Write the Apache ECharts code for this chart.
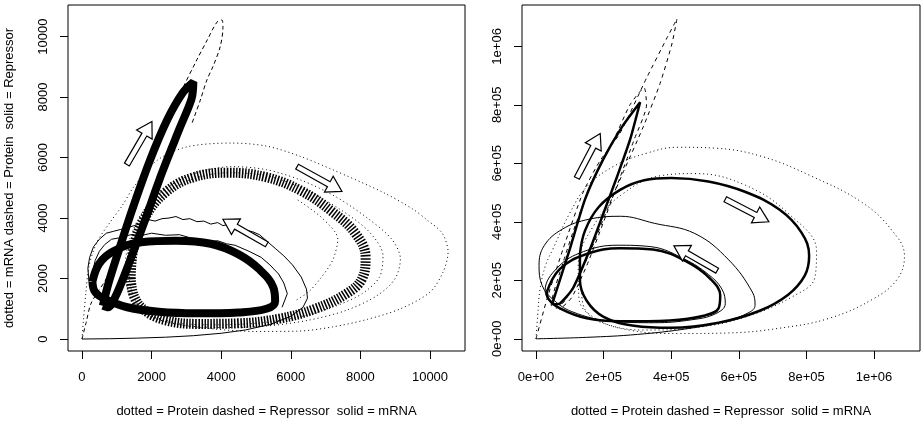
<!DOCTYPE html>
<html>
<head>
<meta charset="utf-8">
<script src="https://cdn.jsdelivr.net/npm/echarts/dist/echarts.min.js"></script>
<style>
  html, body { margin: 0; padding: 0; background: #fff; }
  #chart { width: 924px; height: 423px; }
</style>
</head>
<body>
<div id="chart"></div>
<script>
// ---- tick values / labels ----
const leftTicks = [0, 2000, 4000, 6000, 8000, 10000];
const rightTicks = [0, 200000, 400000, 600000, 800000, 1000000];
const rightTickLabels = ["0e+00", "2e+05", "4e+05", "6e+05", "8e+05", "1e+06"];

const xTitle = "dotted = Protein dashed = Repressor  solid = mRNA";
const yTitle = "dotted = mRNA dashed = Protein  solid = Repressor";

// ---- left panel (stochastic run) ----
// dashed limit cycle (Repressor, Protein) - dense band
const leftNarrow = [[600,1100],[750,1800],[1050,2900],[1450,4300],[1950,5900],[2450,7250],[2900,8150],[3200,8500],
  [3150,7950],[2800,6950],[2300,5500],[1800,3900],[1350,2500],[1000,1500],[750,1050],[600,1100]];
// dotted limit cycle (Protein, mRNA) - dense band
const leftBig = [[1400,2000],[1480,3000],[1800,4000],[2400,4850],[3200,5350],[4200,5500],[5300,5350],[6300,4900],
  [7200,4200],[7850,3500],[8150,2700],[8050,2000],[7600,1500],[6700,1000],[5700,680],[4500,520],[3300,500],
  [2400,620],[1800,950],[1500,1400],[1400,2000]];
// solid limit cycle (mRNA, Repressor) - dense band
const leftSmall = [[300,1900],[500,2500],[900,2900],[1700,3200],[2700,3250],[3700,3150],[4500,2800],[5100,2300],
  [5500,1700],[5550,1250],[5300,1000],[4500,880],[3300,850],[2200,900],[1300,1050],[700,1300],[380,1550],[300,1900]];
// dotted transient
const leftDotTrans = [[0,0],[40,600],[110,1500],[200,2400],[430,3200],[800,3850],[1150,4400],[1500,5050],[2150,5900],
  [3000,6350],[4300,6480],[5300,6380],[6250,6050],[7200,5600],[8650,4850],[9500,4300],[9900,3950],[10350,3500],
  [10520,2870],[10370,2200],[10000,1550],[9150,1000],[8200,650],[7200,400],[6200,260],[5000,250],[3800,330],
  [2800,480],[2000,720],[1550,1100],[1300,1700],[1250,2500],[1400,3400],[1800,4300],[2500,5050],[3300,5500],
  [4300,5700],[5300,5600],[6300,5250],[7300,4700],[8200,4000],[8900,3300],[9150,2650],[9000,2000],[8500,1450],
  [7600,950],[6500,620],[5300,430],[4100,380],[3000,440],[2200,650],[1700,1000],[1450,1500],[1350,2200],
  [1450,3100],[1800,4000],[2400,4800],[3200,5300],[4200,5500],[5300,5400],[6400,4950],[7400,4300],[8250,3550],
  [8650,2750],[8550,2050],[8050,1500],[7200,1050],[6200,720],[5000,520],[3800,470],[2800,520],[2100,720]];
const leftDotInner = [[6200,4600],[6900,4000],[7350,3300],[7200,2600],[6850,2000],[6500,1550],[6100,1250]];
// dashed transient
const leftDashTrans = [[0,0],[120,550],[250,1150],[450,1550],[700,2000],[1050,3000],[1550,4600],[2050,6000],
  [2500,7200],[2900,8300],[3300,9230],[3600,9890],[3880,10480],[4020,10550],[4050,10300],[3970,9660],
  [3760,9000],[3590,8570],[3400,7900],[3150,7100]];
// solid transients (noisy)
const leftSolidTrans = [[0,0],[800,10],[1600,30],[2400,60],[3200,110],[4000,190],[4700,300],[5400,480],[6000,750],
  [6350,1050],[6480,1350],[6450,1650],[6300,2050],[6050,2450],[5800,2750],[5550,3000],[5300,3250],[5100,3450],
  [4900,3550],[4700,3600],[4550,3700],[4400,3650],[4250,3800],[4050,3750],[3900,3850],[3700,3800],[3500,3900],
  [3300,3880],[3100,3980],[2900,3950],[2700,4050],[2500,4000],[2300,3980],[2100,3900],[1900,3950],[1700,3820],
  [1500,3750],[1300,3680],[1100,3620],[900,3560],[700,3500],[500,3300],[330,3050],[220,2700],[170,2350],
  [200,1900],[350,1550],[650,1300],[1100,1150]];
const leftSolid2 = [[5750,1050],[5900,1500],[5800,1850],[5650,2150],[5400,2450],[5150,2700],[4800,2900],
  [4400,3100],[4150,3150],[3900,3250],[3650,3230],[3400,3300],[3100,3350],[2800,3450],[2400,3430],[2000,3500],
  [1700,3420],[1400,3450],[1100,3350],[850,3300],[650,3120],[500,2900],[380,2600],[320,2300],[350,1700],[600,1350]];
const leftArrows = [[1290,5770,2010,7190],[6180,5700,7470,4880],[5310,3130,4050,3960]];

// ---- right panel (deterministic run) ----
const rightNarrow = [[50000,127000],[100000,307000],[145000,477000],[198000,612000],[254000,724000],[308000,809000],
  [278000,680000],[240000,555000],[204000,443000],[160000,307000],[109000,172000],[71000,121000],[50000,118000],
  [50000,127000]];
const rightBig = [[130000,290000],[145000,370000],[185000,450000],[250000,510000],[320000,542000],[400000,550000],
  [510000,538000],[620000,502000],[720000,442000],[785000,364000],[808000,284000],[795000,216000],[745000,150000],
  [660000,95000],[540000,55000],[400000,38000],[290000,45000],[200000,75000],[150000,130000],[130000,200000],
  [130000,290000]];
const rightSmall = [[32000,160000],[71000,239000],[150000,290000],[248000,310000],[346000,305000],[447000,263000],
  [515000,206000],[545000,148000],[540000,104000],[500000,80000],[396000,63000],[248000,60000],[150000,70000],
  [71000,104000],[36000,138000],[32000,160000]];
const rightSolidTrans = [[0,0],[150000,5000],[300000,15000],[450000,35000],[560000,60000],[630000,90000],
  [648000,114000],[640000,160000],[570000,270000],[470000,360000],[350000,395000],[250000,419000],[157000,409000],
  [78000,375000],[24000,318000],[9000,250000],[18000,183000],[47000,138000],[106000,93000],[225000,60000],
  [350000,55000],[460000,65000],[530000,85000],[560000,120000],[550000,170000],[510000,220000],[440000,272000],
  [340000,315000],[240000,320000],[140000,298000],[65000,245000],[27000,165000],[40000,130000],[75000,100000]];
const rightDotTrans = [[0,0],[5000,80000],[12000,170000],[28000,250000],[50000,307000],[100000,430000],
  [150000,520000],[230000,590000],[328000,635000],[420000,655000],[530000,652000],[670000,623000],[817000,555000],
  [965000,466000],[1050000,375000],[1090000,284000],[1070000,206000],[1000000,138000],[867000,70000],
  [719000,36000],[570000,20000],[423000,18000],[275000,30000],[175000,70000],[127000,138000],[125000,250000],
  [170000,386000],[250000,490000],[370000,558000],[470000,565000],[620000,525000],[750000,425000],[830000,300000],
  [825000,210000],[760000,145000],[620000,75000],[470000,38000],[320000,30000],[195000,55000],[145000,100000],
  [135000,160000]];
const rightDashTrans = [[0,0],[33000,138000],[80000,307000],[139000,500000],[190000,610000],[249000,704000],
  [328000,894000],[388000,1030000],[417000,1094000],[402000,1008000],[367000,873000],[317000,724000],
  [257000,567000],[210000,440000],[165000,310000],[120000,200000],[85000,130000],[60000,105000],[45000,115000],
  [80000,260000],[120000,400000],[175000,560000],[230000,680000],[278000,800000],[320000,858000],[327000,800000],
  [290000,680000],[248000,550000],[200000,400000],[150000,250000],[105000,140000],[70000,100000]];
const rightArrows = [[121000,550000,190000,702000],[560000,477000,689000,400000],[536000,233000,408000,318000]];

// ---- helpers ----
const FONT = "Liberation Sans";

function line(data, idx, width, dash, smooth) {
  return {
    type: "line", xAxisIndex: idx, yAxisIndex: idx, data: data,
    symbol: "none", smooth: smooth, silent: true,
    lineStyle: { color: "#000", width: width, type: dash, cap: "butt" }
  };
}

function arrows(data, idx) {
  return {
    type: "custom", xAxisIndex: idx, yAxisIndex: idx, data: data, z: 10, silent: true,
    renderItem: function (params, api) {
      const a = api.coord([api.value(0), api.value(1)]);
      const b = api.coord([api.value(2), api.value(3)]);
      const dx = b[0] - a[0], dy = b[1] - a[1];
      const len = Math.sqrt(dx * dx + dy * dy);
      const ux = dx / len, uy = dy / len, nx = -uy, ny = ux;
      const w = 2.8, hw = 9, hl = 15;
      const k = [b[0] - ux * hl, b[1] - uy * hl];
      const pts = [
        [a[0] + nx * w, a[1] + ny * w], [k[0] + nx * w, k[1] + ny * w], [k[0] + nx * hw, k[1] + ny * hw], b,
        [k[0] - nx * hw, k[1] - ny * hw], [k[0] - nx * w, k[1] - ny * w], [a[0] - nx * w, a[1] - ny * w]
      ];
      return { type: "polygon", shape: { points: pts }, style: { fill: "#fff", stroke: "#000", lineWidth: 1.2 } };
    }
  };
}

function xAxis(idx, min, max, ticks, fmt) {
  return {
    gridIndex: idx, type: "value", min: min, max: max,
    splitLine: { show: false }, axisLine: { show: false, onZero: false },
    axisTick: { show: true, length: 8, customValues: ticks, lineStyle: { color: "#000" } },
    axisLabel: { customValues: ticks, margin: 20, fontSize: 13, color: "#000", fontFamily: FONT, formatter: fmt },
    name: xTitle, nameLocation: "middle", nameGap: 54,
    nameTextStyle: { fontSize: 13, color: "#000", fontFamily: FONT }
  };
}

function yAxis(idx, min, max, ticks, fmt, title) {
  return {
    gridIndex: idx, type: "value", min: min, max: max,
    splitLine: { show: false }, axisLine: { show: false, onZero: false },
    axisTick: { show: true, length: 8, customValues: ticks, lineStyle: { color: "#000" } },
    axisLabel: { customValues: ticks, rotate: 90, margin: 18, fontSize: 13, color: "#000", fontFamily: FONT, formatter: fmt },
    name: title, nameLocation: "middle", nameGap: 52,
    nameTextStyle: { fontSize: 13, color: "#000", fontFamily: FONT }
  };
}

const fmtPlain = function (v) { return String(v); };
const fmtSci = function (v) { return rightTickLabels[rightTicks.indexOf(v)]; };

const chart = echarts.init(document.getElementById("chart"));
chart.setOption({
  animation: false,
  backgroundColor: "#fff",
  grid: [
    { left: 68, top: 5, width: 397, height: 347, show: true, borderColor: "#000", borderWidth: 1 },
    { left: 522, top: 5, width: 398, height: 348, show: true, borderColor: "#000", borderWidth: 1 }
  ],
  xAxis: [
    xAxis(0, -402, 11006, leftTicks, fmtPlain),
    xAxis(1, -41400, 1136000, rightTicks, fmtSci)
  ],
  yAxis: [
    yAxis(0, -396, 11045, leftTicks, fmtPlain, yTitle),
    yAxis(1, -41700, 1141500, rightTicks, fmtSci, "")
  ],
  series: [
    // left
    line(leftDotTrans, 0, 1, [1, 3], 0.3),
    line(leftDotInner, 0, 1, [1, 3], 0.3),
    line(leftDashTrans, 0, 1, [4, 3], 0.3),
    line(leftSolidTrans, 0, 1, "solid", false),
    line(leftSolid2, 0, 1, "solid", false),
    line(leftBig, 0, 10, [1.5, 1.5], 0.4),
    line(leftSmall, 0, 8, "solid", 0.4),
    line(leftNarrow, 0, 8, "solid", 0.3),
    arrows(leftArrows, 0),
    // right
    line(rightDotTrans, 1, 1, [1, 3], 0.4),
    line(rightDashTrans, 1, 1, [4, 4], 0.2),
    line(rightSolidTrans, 1, 1, "solid", 0.4),
    line(rightBig, 1, 2.5, "solid", 0.4),
    line(rightSmall, 1, 2.5, "solid", 0.4),
    line(rightNarrow, 1, 2.5, "solid", 0.2),
    arrows(rightArrows, 1)
  ]
});
</script>
</body>
</html>
